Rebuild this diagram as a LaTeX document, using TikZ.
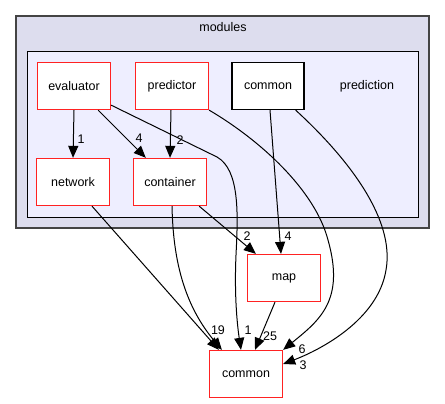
\documentclass[tikz,border=0pt]{standalone}
\usepackage{fontspec}
\setmainfont{Liberation Sans}
\usetikzlibrary{arrows.meta,calc}
\definecolor{outerfill}{HTML}{DDDDEE}
\definecolor{innerfill}{HTML}{EEEEFF}
\definecolor{outerline}{HTML}{444444}
\definecolor{boxred}{HTML}{FF2222}
\tikzset{
  dirbox/.style={draw=boxred, line width=1.3pt, fill=white, minimum width=73pt, minimum height=47pt, inner sep=0pt, font=\fontsize{12.5}{15}\selectfont},
  plainbox/.style={draw=black, line width=1.2pt, fill=white, minimum width=72pt, minimum height=47pt, inner sep=0pt, font=\fontsize{12.5}{15}\selectfont},
  dep/.style={draw=black, line width=1pt, -{Triangle[length=12pt,width=10pt]}},
  lbl/.style={font=\fontsize{12.5}{14}\selectfont, inner sep=0pt},
  cltitle/.style={font=\fontsize{12.5}{15}\selectfont, inner sep=0pt}
}
\begin{document}
\begin{tikzpicture}[x=1pt,y=-1pt]
\useasboundingbox (0,0) rectangle (445,404);
\fill[white] (0,0) rectangle (445,404);
% clusters
\draw[draw=outerline, fill=outerfill, line width=1.5pt] (16,16) rectangle (429,228);
\node[cltitle] (modlbl) at (223,27) {modules};
\draw[draw=black, fill=innerfill, line width=1pt] (27,52) rectangle (418,217);
\node[cltitle] (predlbl) at (367,86) {prediction};
% nodes
\node[dirbox] (ev) at (74,86) {evaluator};
\node[dirbox] (pr) at (172,86) {predictor};
\node[plainbox] (ci) at (268,86) {common};
\node[dirbox] (nw) at (73,182) {network};
\node[dirbox] (ct) at (170,182) {container};
\node[dirbox] (mp) at (284,278) {map};
\node[dirbox] (cb) at (246,374) {common};
% edges
\draw[dep] (ev.south) -- (nw.north);
\draw[dep] ($(ev.south east)+(-13,0)$) -- ($(ct.north west)+(13,0)$);
\draw[dep] ($(pr.south)+(-1,0)$) -- (ct.north);
\draw[dep] ($(ev.south east)+(0,-5)$) -- (217,157) .. controls (240,170) and (238,215) .. (236,255) .. controls (234,300) and (238,330) .. ($(cb.north)+(-5,0)$);
\draw[dep] (pr.south east) .. controls (260,140) and (315,190) .. (328,240) .. controls (345,300) and (320,320) .. (cb.north east);
\draw[dep] ($(ci.south)+(2,0)$) -- ($(mp.north)+(-3,0)$);
\draw[dep] ($(ci.south east)+(-9,0)$) .. controls (350,160) and (395,220) .. (386,270) .. controls (378,320) and (320,350) .. ($(cb.east)+(0,-10)$);
\draw[dep] ($(ct.south east)+(-8,0)$) -- ($(mp.north west)+(9,0)$);
\draw[dep] ($(ct.south)+(2,0)$) .. controls (173,250) and (180,300) .. ($(cb.north west)+(13,0)$);
\draw[dep] ($(nw.south)+(19,0)$) -- ($(cb.north west)+(10,0)$);
\draw[dep] ($(mp.south)+(-9,0)$) -- ($(cb.north)+(9,0)$);
% labels
\node[lbl] (l1) at (81,139) {1};
\node[lbl] (l2) at (139,138) {4};
\node[lbl] (l3) at (180,140) {2};
\node[lbl] (l4) at (247,236) {2};
\node[lbl] (l5) at (288,236) {4};
\node[lbl] (l6) at (218,330) {19};
\node[lbl] (l7) at (248,330) {1};
\node[lbl] (l8) at (270,336) {25};
\node[lbl] (l9) at (302,349) {6};
\node[lbl] (l10) at (303,365) {3};
\end{tikzpicture}
\end{document}
